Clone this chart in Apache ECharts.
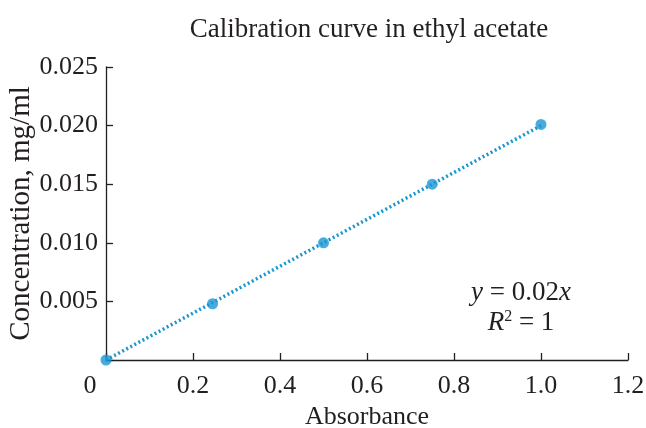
<!doctype html>
<html lang="en">
<head>
    <meta charset="utf-8">
    <title>Calibration curve in ethyl acetate</title>
    <script src="https://cdn.jsdelivr.net/npm/echarts@6/dist/echarts.min.js"></script>
    <style>
        html, body { margin: 0; padding: 0; background: #fff; }
    </style>
</head>
<body>

<div id="main" style="width:646px;height:428px;"></div>

<script>
    // 数据
    var absorbance = [0, 0.245, 0.5, 0.75, 1.0];
    var concentration = [0, 0.0048, 0.010, 0.015, 0.0201];
    // 趋势线 y = 0.02x
    var trendX = [0, 1.0];
    var trendY = [0, 0.02];
    var xTicks = [0, 0.2, 0.4, 0.6, 0.8, 1.0, 1.2];
    var yTicks = [0, 0.005, 0.010, 0.015, 0.020, 0.025];

    var serif = '"Liberation Serif", "DejaVu Serif", serif';
    var ink = '#231f20';
    var blue = '#1a96d2';

    var pairs = function(xs, ys) {
        var res = [];
        for (var i = 0; i < xs.length; i++) {
            res.push([xs[i], ys[i]]);
        }
        return res;
    };

    var myChart = echarts.init(document.getElementById('main'));

    var option = {
        backgroundColor: '#fff',
        animation: false,
        title: {
            text: 'Calibration curve in ethyl acetate',
            left: 364,
            textAlign: 'center',
            top: 11,
            textStyle: {
                fontFamily: serif,
                fontWeight: 'normal',
                fontSize: 27,
                color: ink
            }
        },
        grid: {
            left: 106,
            right: 18,
            top: 67,
            bottom: 68,
            outerBoundsMode: 'none'
        },
        xAxis: {
            type: 'value',
            min: xTicks[0],
            max: xTicks[xTicks.length - 1],
            interval: 0.2,
            name: 'Absorbance',
            nameLocation: 'middle',
            nameGap: 44,
            nameMoveOverlap: false,
            nameTextStyle: { fontFamily: serif, fontSize: 26, color: ink },
            axisLine: { lineStyle: { color: ink, width: 1.3 } },
            axisTick: { inside: true, length: 7, lineStyle: { color: ink, width: 1.3 } },
            splitLine: { show: false },
            axisLabel: {
                margin: 13,
                fontFamily: serif,
                fontSize: 26,
                color: ink,
                formatter: function(v) {
                    if (v === 0) return '{zero|0}';
                    return v.toFixed(1);
                },
                rich: {
                    zero: { fontFamily: serif, fontSize: 26, color: ink, padding: [0, 32, 0, 0] }
                }
            }
        },
        yAxis: {
            type: 'value',
            min: yTicks[0],
            max: yTicks[yTicks.length - 1],
            interval: 0.005,
            name: 'Concentration, mg/ml',
            nameLocation: 'middle',
            nameGap: 70,
            nameMoveOverlap: false,
            nameTextStyle: { fontFamily: serif, fontSize: 29, color: ink },
            axisLine: { show: true, lineStyle: { color: ink, width: 1.3 } },
            axisTick: { inside: true, length: 7, lineStyle: { color: ink, width: 1.3 } },
            splitLine: { show: false },
            axisLabel: {
                margin: 8,
                fontFamily: serif,
                fontSize: 26,
                color: ink,
                formatter: function(v) {
                    if (v === 0) return '';
                    return v.toFixed(3);
                }
            }
        },
        graphic: [{
            type: 'text',
            x: 521,
            y: 293,
            style: {
                text: '{i|y} = 0.02{i|x}',
                align: 'center',
                verticalAlign: 'middle',
                fontFamily: serif,
                fontSize: 27,
                fill: ink,
                rich: {
                    i: { fontFamily: serif, fontSize: 27, fontStyle: 'italic', fill: ink }
                }
            }
        }, {
            type: 'text',
            x: 521,
            y: 323,
            style: {
                text: '{i|R}{s|2} = 1',
                align: 'center',
                verticalAlign: 'middle',
                fontFamily: serif,
                fontSize: 27,
                fill: ink,
                rich: {
                    i: { fontFamily: serif, fontSize: 27, fontStyle: 'italic', fill: ink },
                    s: { fontFamily: serif, fontSize: 16, fill: ink, verticalAlign: 'top', padding: [0, 0, 12, 0] }
                }
            }
        }],
        series: [{
            name: 'trend',
            type: 'line',
            data: pairs(trendX, trendY),
            symbol: 'none',
            silent: true,
            lineStyle: {
                color: blue,
                width: 3.5,
                type: [2, 2.6],
                cap: 'butt'
            },
            z: 2
        }, {
            name: 'data',
            type: 'scatter',
            data: pairs(absorbance, concentration),
            symbolSize: 11,
            itemStyle: { color: blue },
            z: 3
        }]
    };

    myChart.setOption(option);
</script>
</body>
</html>
